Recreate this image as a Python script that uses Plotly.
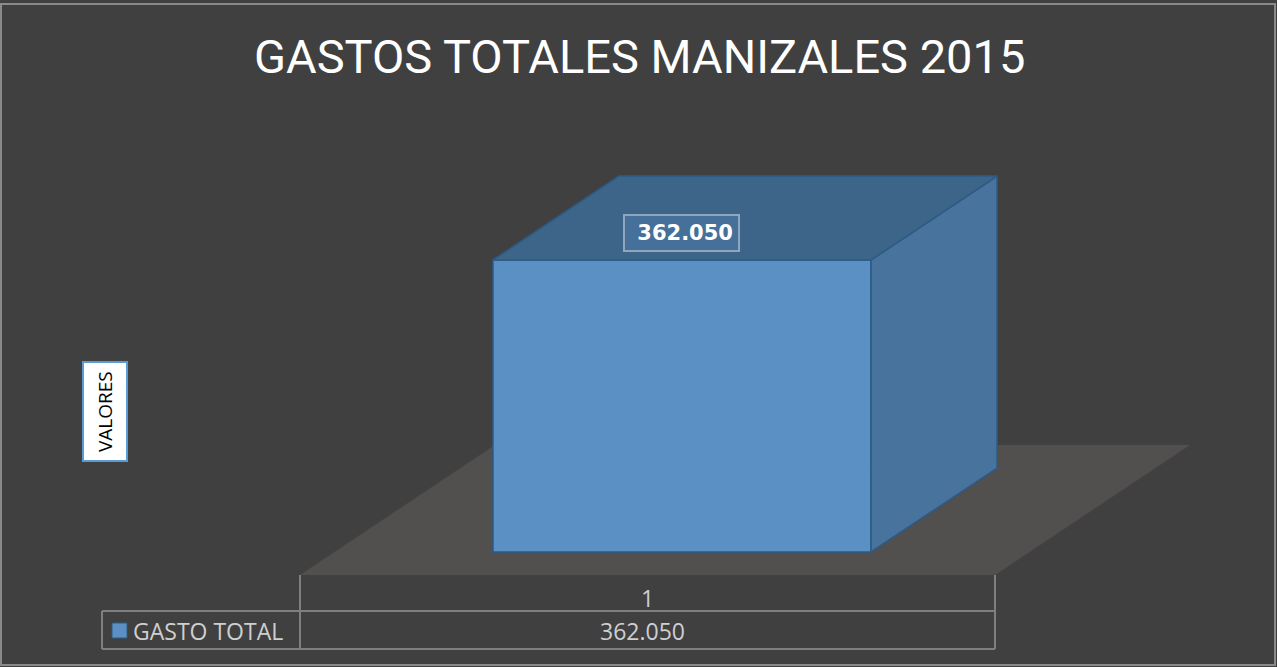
import plotly.graph_objects as go

# ---- data ----
categories = ["1"]
series_name = "GASTO TOTAL"
values = [362050]
value_labels = ["362.050"]
title_text = "GASTOS TOTALES MANIZALES 2015"
axis_title = "VALORES"

# ---- 3D projection parameters (oblique) ----
W, H = 1277, 667
PX_PER_VAL = 292 / 362050.0       # vertical scale: pixels per value unit
VAL_PER_PX = 1 / PX_PER_VAL
CAT_PX = 695.0                    # pixel width of one category
DX = 195 / CAT_PX                 # depth vector (category units) for full depth
DV = 130 * VAL_PER_PX             # depth vector (value units) for full depth
D_FRONT, D_BACK = 0.177, 0.823    # bar depth extent
BAR_W = 0.544                     # bar width in category units

FRONT = "#5a90c4"
TOP = "#3d6589"
SIDE = "#47739c"
EDGE = "#2c5b86"
BG = "#404040"
FLOOR = "#524f4f"
GRID = "#7f7f7f"

# axes: category 1 spans pixel 300..995; value 0 at pixel 575
x0_px = 300.0
xr = [0.5 - x0_px / CAT_PX, 0.5 + (W - x0_px) / CAT_PX]
yr = [-(H - 575) * VAL_PER_PX, 575 * VAL_PER_PX]

def P(x, v, d):
    return x + d * DX, v + d * DV

fig = go.Figure()

# floor (shape below traces, in data coordinates)
n = len(categories)
corners = [P(0.5, 0, 0), P(0.5 + n, 0, 0), P(0.5 + n, 0, 1), P(0.5, 0, 1)]
path = "M " + " L ".join(f"{a},{b}" for a, b in corners) + " Z"
fig.add_shape(type="path", path=path, xref="x", yref="y", fillcolor=FLOOR,
              line=dict(width=0), layer="below")

for i, (cat, val) in enumerate(zip(categories, values)):
    c = i + 1
    xl, xr_ = c - BAR_W / 2, c + BAR_W / 2
    # side face
    pts = [(xr_, 0, D_FRONT), (xr_, 0, D_BACK), (xr_, val, D_BACK), (xr_, val, D_FRONT), (xr_, 0, D_FRONT)]
    sx, sy = zip(*[P(*p) for p in pts])
    fig.add_trace(go.Scatter(x=list(sx), y=list(sy), fill="toself", fillcolor=SIDE, mode="lines",
                             line=dict(width=1.5, color=EDGE), hoverinfo="skip", showlegend=False))
    # top face
    pts = [(xl, val, D_FRONT), (xr_, val, D_FRONT), (xr_, val, D_BACK), (xl, val, D_BACK), (xl, val, D_FRONT)]
    tx, ty = zip(*[P(*p) for p in pts])
    fig.add_trace(go.Scatter(x=list(tx), y=list(ty), fill="toself", fillcolor=TOP, mode="lines",
                             line=dict(width=1.5, color=EDGE), hoverinfo="skip", showlegend=False))
    # front face (bar)
    bx, bbase = P(c, 0, D_FRONT)
    fig.add_trace(go.Bar(x=[bx], y=[val], base=[bbase], width=[BAR_W], name=series_name,
                         marker=dict(color=FRONT, line=dict(color=EDGE, width=1.5)),
                         showlegend=False))
    # data label on the top face
    lx, ly = P(c - 0.059, val, 0.385)
    fig.add_annotation(x=lx, y=ly, text="<b>&nbsp;" + value_labels[i] + "</b>", showarrow=False,
                       font=dict(family="DejaVu Sans, Verdana, sans-serif", size=21, color="white"),
                       bgcolor="#45709a", bordercolor="#8fa6bd", borderwidth=2, borderpad=5,
                       xanchor="center", yanchor="middle")

# ---- data table (paper coords) ----
def py(p):
    return 1 - p / H

def pxp(p):
    return p / W

tbl_left, col_left, col_right = 102, 300, 995
r0, r1, r2 = 575, 611, 649
line = dict(color=GRID, width=2)
shapes = [
    dict(type="line", xref="paper", yref="paper", x0=pxp(col_left), x1=pxp(col_left), y0=py(r0), y1=py(r2), line=line),
    dict(type="line", xref="paper", yref="paper", x0=pxp(col_right), x1=pxp(col_right), y0=py(r0), y1=py(r2), line=line),
    dict(type="line", xref="paper", yref="paper", x0=pxp(tbl_left), x1=pxp(tbl_left), y0=py(r1), y1=py(r2), line=line),
    dict(type="line", xref="paper", yref="paper", x0=pxp(tbl_left), x1=pxp(col_right), y0=py(r1), y1=py(r1), line=line),
    dict(type="line", xref="paper", yref="paper", x0=pxp(tbl_left), x1=pxp(col_right), y0=py(r2), y1=py(r2), line=line),
    # legend key square
    dict(type="rect", xref="paper", yref="paper", x0=pxp(112), x1=pxp(127), y0=py(638), y1=py(623),
         fillcolor=FRONT, line=dict(color=EDGE, width=1)),
    # outer chart border
    dict(type="rect", xref="paper", yref="paper", x0=pxp(1), x1=pxp(1275), y0=py(665), y1=py(4),
         line=dict(color="#8a8a8a", width=2), fillcolor="rgba(0,0,0,0)"),
]
for s in shapes:
    fig.add_shape(**s)

table_font = dict(family="Open Sans, Lato, sans-serif", size=23, color="#cfcfcf")
fig.add_annotation(xref="paper", yref="paper", x=pxp(647), y=py(598), text=categories[0],
                   showarrow=False, font=table_font, xanchor="center", yanchor="middle")
fig.add_annotation(xref="paper", yref="paper", x=pxp(642), y=py(631), text=value_labels[0],
                   showarrow=False, font=table_font, xanchor="center", yanchor="middle")
fig.add_annotation(xref="paper", yref="paper", x=pxp(131), y=py(631), text=series_name,
                   showarrow=False, font=table_font, xanchor="left", yanchor="middle")

# axis title box
fig.add_annotation(xref="paper", yref="paper", x=pxp(105), y=py(412), text=axis_title,
                   textangle=-90, showarrow=False,
                   font=dict(family="Open Sans, Lato, sans-serif", size=19, color="black"),
                   bgcolor="white", bordercolor="#5b9bd5", borderwidth=2, borderpad=8,
                   xanchor="center", yanchor="middle")

# title
fig.add_annotation(xref="paper", yref="paper", x=pxp(639), y=py(57), text=title_text,
                   showarrow=False,
                   font=dict(family="Roboto, Lato, sans-serif", size=47, color="white"),
                   xanchor="center", yanchor="middle")

fig.update_layout(
    width=W, height=H,
    margin=dict(l=0, r=0, t=0, b=0),
    paper_bgcolor=BG, plot_bgcolor=BG,
    showlegend=False,
    barmode="overlay",
    xaxis=dict(range=xr, visible=False, fixedrange=True),
    yaxis=dict(range=yr, visible=False, fixedrange=True),
)

fig.write_html("out.html", config={"displayModeBar": False},
               post_script="document.body.style.margin='0';document.body.style.overflow='hidden';")
